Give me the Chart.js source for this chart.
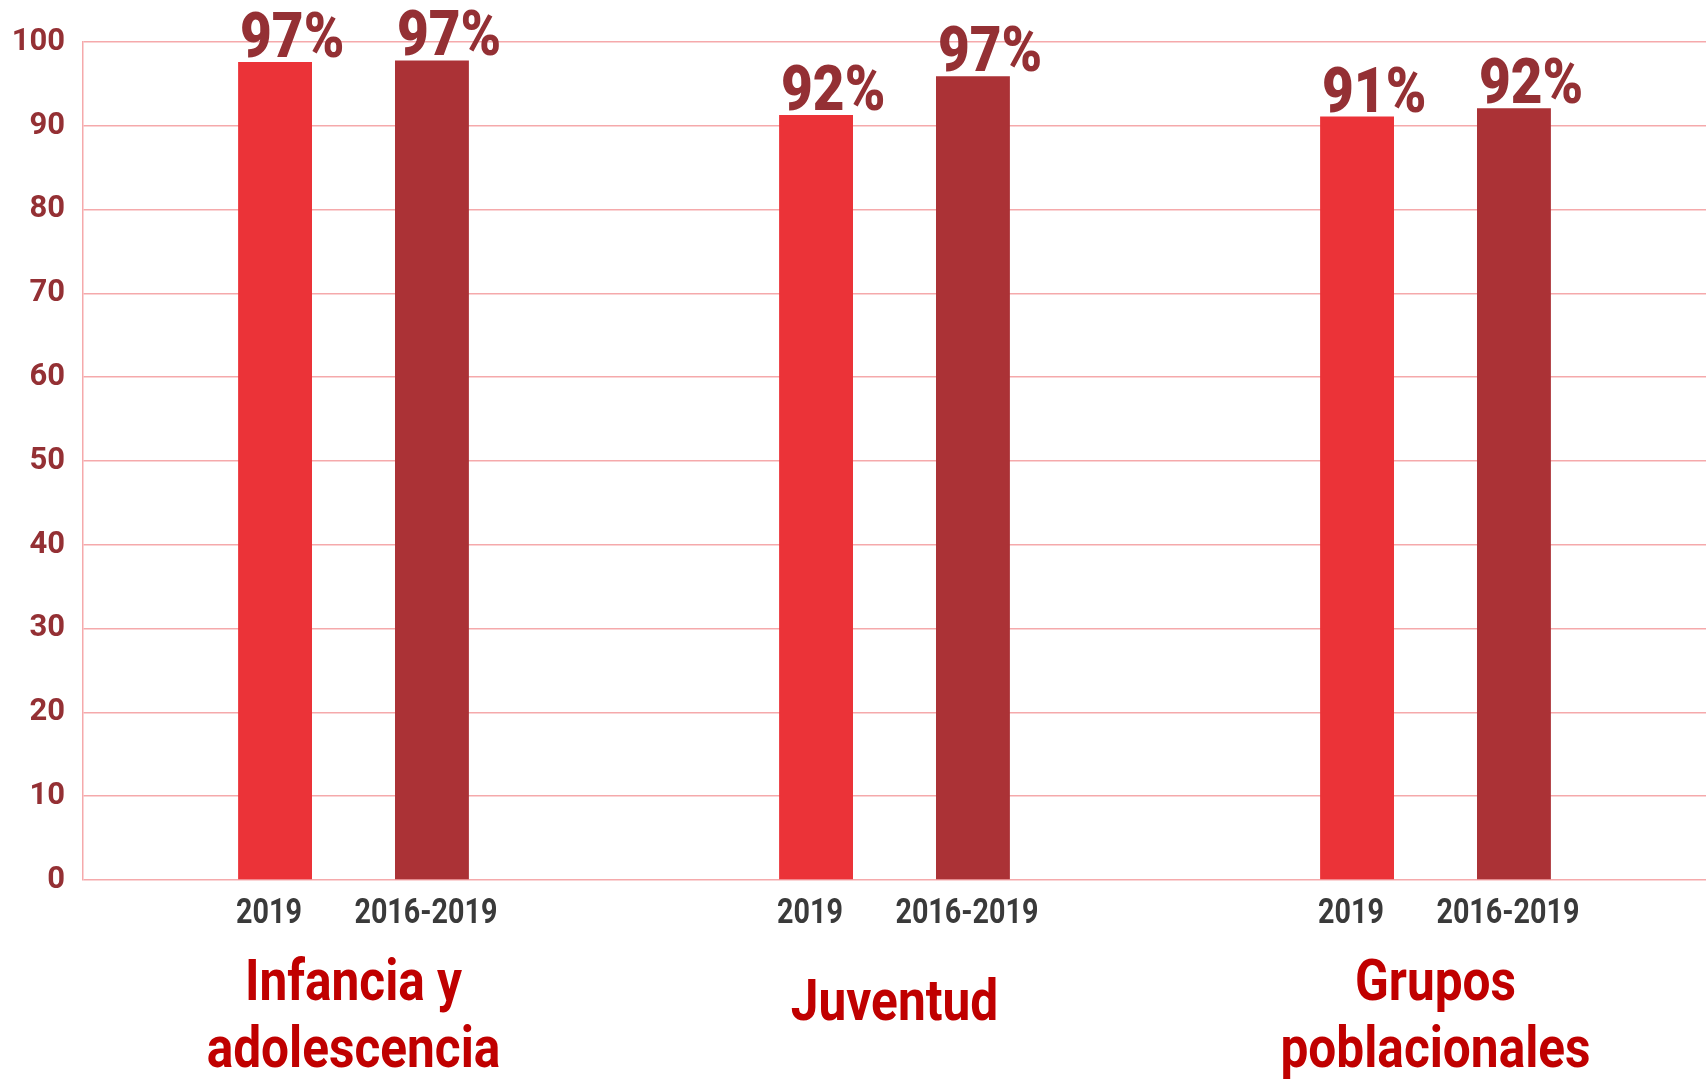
<!DOCTYPE html>
<html>
<head>
<meta charset="utf-8">
<script src="https://cdn.jsdelivr.net/npm/chart.js@4/dist/chart.umd.min.js"></script>
<style>
html,body{margin:0;padding:0;background:#fff;}
#wrap{width:1706px;height:1081px;position:relative;}
</style>
</head>
<body>
<div id="wrap"><canvas id="c"></canvas></div>
<script>
const categories = [['Infancia y', 'adolescencia'], ['Juventud'], ['Grupos', 'poblacionales']];
const seriesNames = ['2019', '2016-2019'];
const values2019 = [97.6, 91.3, 91.1];
const values20162019 = [97.8, 95.9, 92.1];
const valueLabels2019 = ['97%', '92%', '91%'];
const valueLabels20162019 = ['97%', '97%', '92%'];
const yTickValues = [0, 10, 20, 30, 40, 50, 60, 70, 80, 90, 100];

const valueLabels = [valueLabels2019, valueLabels20162019];

function drawScaled(ctx, text, x, y, font, color, align, sx) {
  ctx.save();
  ctx.font = font;
  ctx.fillStyle = color;
  ctx.textBaseline = 'alphabetic';
  const w = ctx.measureText(text).width * sx;
  let left = x;
  if (align === 'center') left = x - w / 2;
  ctx.translate(left, y);
  ctx.scale(sx, 1);
  ctx.textAlign = 'left';
  ctx.fillText(text, 0, 0);
  ctx.restore();
}

const labelPlugin = {
  id: 'labels',
  afterDatasetsDraw(chart) {
    const ctx = chart.ctx;
    const area = chart.chartArea;
    chart.data.datasets.forEach((ds, di) => {
      const meta = chart.getDatasetMeta(di);
      meta.data.forEach((bar, i) => {
        const left = bar.x - bar.width / 2;
        drawScaled(ctx, valueLabels[di][i], left + 2, bar.y - 5, '900 63px Roboto', '#943034', 'left', 0.87);
        drawScaled(ctx, seriesNames[di], bar.x - 6, area.bottom + 43, 'bold 35px Roboto', '#3a3a3a', 'center', 0.82);
      });
    });
    const xs = chart.scales.x;
    categories.forEach((lines, i) => {
      const cx = xs.getPixelForValue(i);
      if (lines.length === 1) {
        drawScaled(ctx, lines[0], cx, area.bottom + 140, 'bold 57px Roboto', '#c00000', 'center', 0.87);
      } else {
        lines.forEach((t, li) => {
          drawScaled(ctx, t, cx, area.bottom + 120 + li * 67, 'bold 57px Roboto', '#c00000', 'center', 0.87);
        });
      }
    });
  }
};

new Chart(document.getElementById('c'), {
  type: 'bar',
  data: {
    labels: categories.map(c => c.join(' ')),
    datasets: [
      { label: seriesNames[0], data: values2019, backgroundColor: '#eb3338', categoryPercentage: 0.58, barPercentage: 0.471 },
      { label: seriesNames[1], data: values20162019, backgroundColor: '#ab3236', categoryPercentage: 0.58, barPercentage: 0.471 }
    ]
  },
  options: {
    responsive: true,
    maintainAspectRatio: false,
    animation: false,
    layout: { padding: { top: 42, bottom: 201, left: 0, right: 0 } },
    plugins: { legend: { display: false }, tooltip: { enabled: false } },
    scales: {
      x: { display: false },
      y: {
        min: 0, max: 100,
        afterBuildTicks(scale) { scale.ticks = yTickValues.map(v => ({ value: v })); },
        afterFit(scale) { scale.width = 83; },
        ticks: { color: '#943034', font: { family: 'Roboto', weight: 'bold', size: 31 }, padding: 18 },
        grid: { color: '#f5a9ab', lineWidth: 1.5, drawTicks: false },
        border: { color: '#f5a9ab', width: 1.5 }
      }
    }
  },
  plugins: [labelPlugin]
});
</script>
</body>
</html>
